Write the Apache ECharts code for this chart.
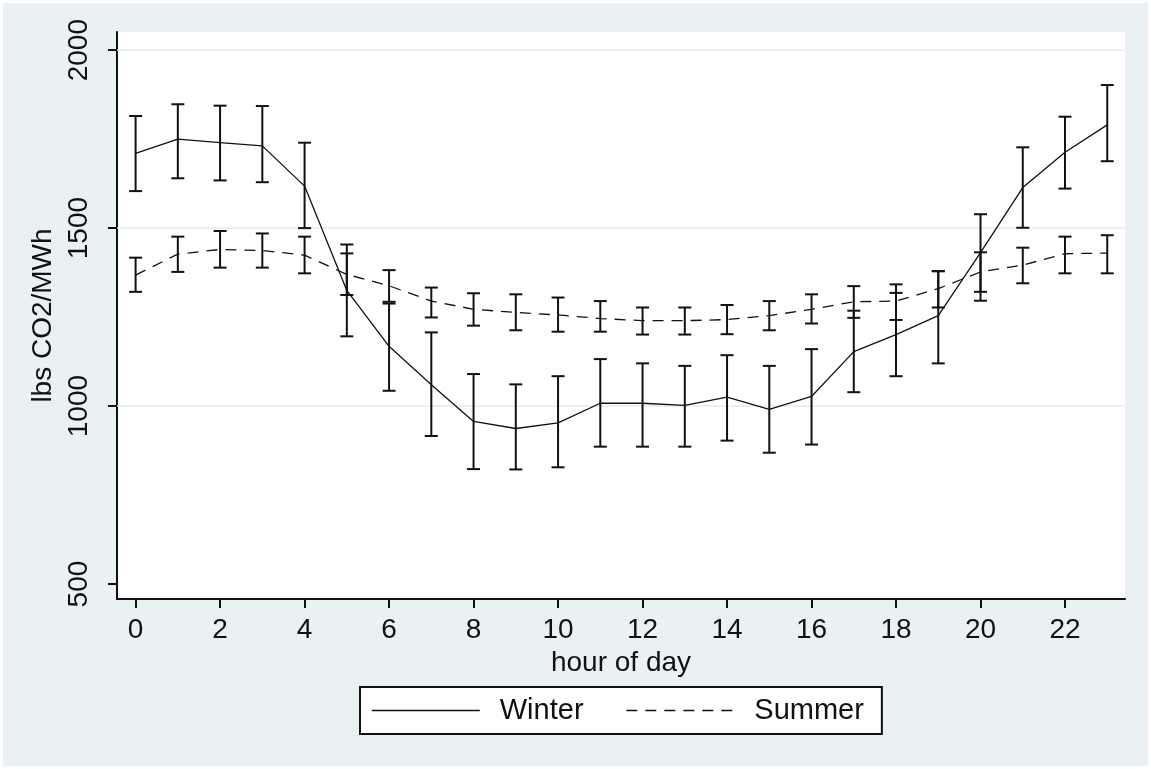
<!DOCTYPE html>
<html><head><meta charset="utf-8">
<script src="https://cdn.jsdelivr.net/npm/echarts@6/dist/echarts.min.js"></script>
<style>html,body{margin:0;padding:0;background:#fff}#main{width:1151px;height:769px}</style>
</head><body><div id="main"></div>
<script>
const hours = [0,1,2,3,4,5,6,7,8,9,10,11,12,13,14,15,16,17,18,19,20,21,22,23];
const winterMean = [1710,1750,1740,1731,1618,1325,1168,1060,957,937,953,1008,1008,1002,1025,991,1027,1153,1201,1254,1431,1614,1713,1790];
const winterLow  = [1604,1640,1634,1629,1500,1196,1043,916,823,822,828,886,886,886,903,869,892,1039,1084,1120,1296,1501,1611,1688];
const winterHigh = [1815,1848,1844,1843,1740,1454,1288,1207,1090,1061,1084,1132,1120,1113,1143,1113,1160,1268,1318,1379,1539,1727,1813,1902];
const summerMean = [1368,1427,1440,1437,1424,1370,1338,1295,1272,1263,1256,1246,1240,1240,1243,1254,1272,1293,1295,1330,1377,1396,1428,1430];
const summerLow  = [1321,1377,1389,1389,1373,1312,1293,1249,1226,1213,1209,1209,1201,1201,1202,1213,1232,1248,1242,1277,1321,1345,1373,1373];
const summerHigh = [1417,1476,1492,1485,1476,1429,1382,1333,1317,1314,1305,1295,1277,1277,1284,1295,1314,1337,1342,1379,1432,1445,1476,1480];
const xTicks = [0,2,4,6,8,10,12,14,16,18,20,22];
const yTicks = [500,1000,1500,2000];
const gridValues = [1000,1500,2000];

const ink = '#111';
const bg = '#E9F1F3';
const gridColor = '#E2EBEE';
const font = 'Liberation Sans, Arial, sans-serif';

function errorBar(color) {
  return function (params, api) {
    const x = api.value(0);
    const lo = api.coord([x, api.value(1)]);
    const hi = api.coord([x, api.value(2)]);
    const w = 6.5;
    const style = { stroke: color, lineWidth: 2 };
    return { type: 'group', children: [
      { type: 'line', shape: { x1: lo[0], y1: lo[1], x2: hi[0], y2: hi[1] }, style: style },
      { type: 'line', shape: { x1: lo[0] - w, y1: lo[1], x2: lo[0] + w, y2: lo[1] }, style: style },
      { type: 'line', shape: { x1: hi[0] - w, y1: hi[1], x2: hi[0] + w, y2: hi[1] }, style: style }
    ]};
  };
}

const chart = echarts.init(document.getElementById('main'), null, { renderer: 'canvas' });
chart.setOption({
  animation: false,
  backgroundColor: 'transparent',
  textStyle: { fontFamily: font },
  graphic: [{ type: 'rect', z: -100, shape: { x: 3, y: 3, width: 1145, height: 763 }, style: { fill: bg } }],
  grid: { left: 117, top: 32, width: 1008, height: 567, show: true, backgroundColor: '#fff', borderWidth: 0 },
  legend: {
    data: ['Winter', 'Summer'], left: 360, top: 687, orient: 'horizontal',
    itemWidth: 108, itemHeight: 14, itemGap: 42, padding: [9, 18, 9, 11],
    borderColor: ink, borderWidth: 2, backgroundColor: '#fff', borderRadius: 0,
    itemStyle: { opacity: 0 },
    lineStyle: { width: 1.5 },
    textStyle: { fontSize: 29, color: ink, fontFamily: font, padding: [0, 0, 0, 15] }
  },
  xAxis: {
    type: 'value', min: -0.44, max: 23.42,
    axisLine: { show: true, onZero: false, lineStyle: { color: ink, width: 2 } },
    axisTick: { show: true, customValues: xTicks, length: 9, lineStyle: { color: ink, width: 2 } },
    axisLabel: { customValues: xTicks, fontSize: 28, color: ink, margin: 17, fontFamily: font },
    splitLine: { show: false },
    name: 'hour of day', nameLocation: 'middle', nameGap: 45,
    nameTextStyle: { fontSize: 28, color: ink, fontFamily: font }
  },
  yAxis: {
    type: 'value', min: 458, max: 2051,
    axisLine: { show: true, onZero: false, lineStyle: { color: ink, width: 2 } },
    axisTick: { show: true, customValues: yTicks, length: 9, lineStyle: { color: ink, width: 2 } },
    axisLabel: { customValues: yTicks, rotate: 90, fontSize: 28, color: ink, margin: 24, fontFamily: font,
      formatter: v => String(v) },
    splitLine: { show: false },
    name: 'lbs CO2/MWh', nameLocation: 'middle', nameGap: 49, nameRotate: 90,
    nameTextStyle: { fontSize: 28, color: ink, fontFamily: font }
  },
  series: [
    { type: 'line', name: 'grid', data: [], z: 1, silent: true,
      markLine: { silent: true, z: 1, symbol: 'none', label: { show: false }, animation: false,
        lineStyle: { color: gridColor, width: 1.5, type: 'solid' },
        data: gridValues.map(v => ({ yAxis: v })) } },
    { type: 'line', name: 'Winter', z: 3, symbol: 'none',
      data: hours.map((h, i) => [h, winterMean[i]]),
      lineStyle: { color: ink, width: 1.3, type: 'solid' }, itemStyle: { color: ink } },
    { type: 'line', name: 'Summer', z: 3, symbol: 'none',
      data: hours.map((h, i) => [h, summerMean[i]]),
      lineStyle: { color: ink, width: 1.3, type: [11, 8] }, itemStyle: { color: ink } },
    { type: 'custom', name: 'Winter CI', z: 4, renderItem: errorBar(ink),
      data: hours.map((h, i) => [h, winterLow[i], winterHigh[i]]), encode: { x: 0, y: [1, 2] } },
    { type: 'custom', name: 'Summer CI', z: 4, renderItem: errorBar(ink),
      data: hours.map((h, i) => [h, summerLow[i], summerHigh[i]]), encode: { x: 0, y: [1, 2] } }
  ]
});
</script></body></html>
